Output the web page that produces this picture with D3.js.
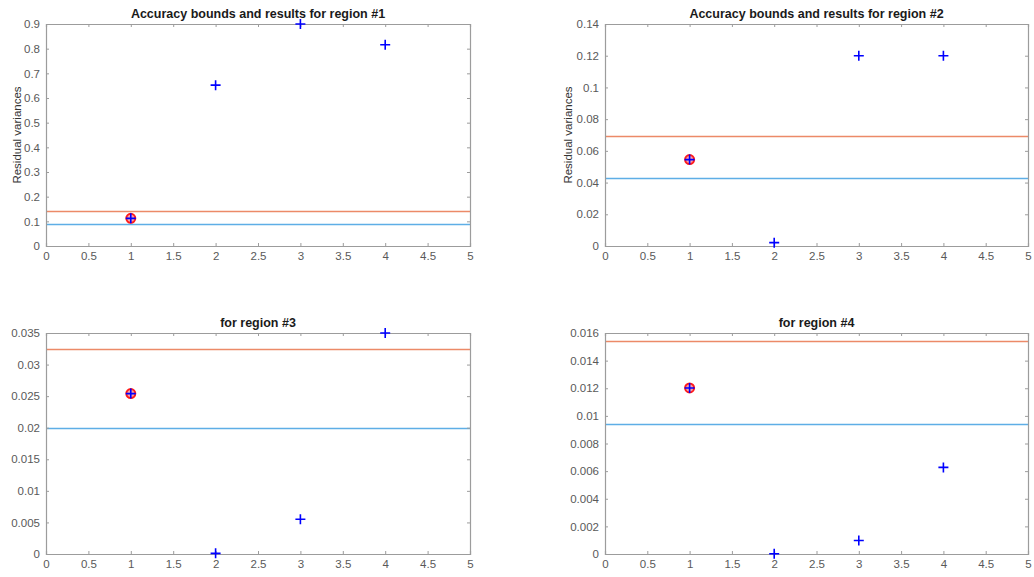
<!DOCTYPE html>
<html>
<head>
<meta charset="utf-8">
<script src="https://cdn.jsdelivr.net/npm/d3@7"></script>
<style>
  html, body { margin: 0; padding: 0; background: #fff; }
  svg { display: block; font-family: "Liberation Sans", Arial, sans-serif; }
</style>
</head>
<body>
<svg id="chart" width="1034" height="577"></svg>
<script>
// ---- data ----
const regionTitles = [
  "Accuracy bounds and results for region #1",
  "Accuracy bounds and results for region #2",
  "for region #3",
  "for region #4"
];
const xValues = [1, 2, 3, 4];
const region1Values = [0.112, 0.652, 0.900, 0.816];
const region2Values = [0.0545, 0.0021, 0.1200, 0.1200];
const region3Values = [0.0254, 0.0001, 0.0055, 0.0350];
const region4Values = [0.01202, 0.00002, 0.00098, 0.00627];
const upperBounds = [0.143, 0.0696, 0.0325, 0.0154];
const lowerBounds = [0.089, 0.0427, 0.0199, 0.0094];
const xTicks = [0, 0.5, 1, 1.5, 2, 2.5, 3, 3.5, 4, 4.5, 5];
const yTicks1 = [0, 0.1, 0.2, 0.3, 0.4, 0.5, 0.6, 0.7, 0.8, 0.9];
const yTicks2 = [0, 0.02, 0.04, 0.06, 0.08, 0.1, 0.12, 0.14];
const yTicks3 = [0, 0.005, 0.01, 0.015, 0.02, 0.025, 0.03, 0.035];
const yTicks4 = [0, 0.002, 0.004, 0.006, 0.008, 0.01, 0.012, 0.014, 0.016];
const highlightedX = 1;
const yLabelText = "Residual variances";

const regionValues = [region1Values, region2Values, region3Values, region4Values];
const regionYTicks = [yTicks1, yTicks2, yTicks3, yTicks4];

// ---- layout ----
const panels = [
  { left: 46, right: 470, top: 24, bottom: 246, ylabelOffset: 25 },
  { left: 605, right: 1028, top: 24, bottom: 246, ylabelOffset: 33 },
  { left: 46, right: 470, top: 333, bottom: 554, ylabelOffset: null },
  { left: 605, right: 1028, top: 333, bottom: 554, ylabelOffset: null }
];

const axisColor = "#9c9c9c";
const textColor = "#595959";
const upperColor = "#ec8a68";
const lowerColor = "#5eaee6";
const markerColor = "#0000ff";
const circleColor = "#ff1a1a";

const svg = d3.select("#chart");
const fmt = v => String(+v.toFixed(6));

panels.forEach((p, i) => {
  const yt = regionYTicks[i];
  const x = d3.scaleLinear().domain([0, 5]).range([p.left, p.right]);
  const y = d3.scaleLinear().domain([0, yt[yt.length - 1]]).range([p.bottom, p.top]);
  const g = svg.append("g");

  // bounds
  [[upperBounds[i], upperColor], [lowerBounds[i], lowerColor]].forEach(([v, c]) => {
    g.append("line")
      .attr("x1", x(0)).attr("x2", x(5))
      .attr("y1", Math.round(y(v)) + 0.5).attr("y2", Math.round(y(v)) + 0.5)
      .attr("stroke", c).attr("stroke-width", 1.3);
  });

  // axes: bottom, left, top, right (ticks inward)
  const tickLen = 3;
  const bottomAxis = d3.axisBottom(x).tickValues(xTicks).tickSize(-tickLen).tickPadding(6).tickFormat(fmt);
  const topAxis = d3.axisTop(x).tickValues(xTicks).tickSize(-tickLen).tickFormat("");
  const leftAxis = d3.axisLeft(y).tickValues(yt).tickSize(-tickLen).tickPadding(6).tickFormat(fmt);
  const rightAxis = d3.axisRight(y).tickValues(yt).tickSize(-tickLen).tickFormat("");

  const styleAxis = sel => {
    sel.select(".domain").attr("stroke", axisColor).attr("stroke-width", 1.2);
    sel.selectAll(".tick line").attr("stroke", axisColor);
    sel.selectAll(".tick text").attr("fill", textColor).style("font-size", "11.5px")
      .style("font-family", '"Liberation Sans", Arial, sans-serif');
  };

  g.append("g").attr("transform", `translate(0,${p.bottom})`).call(bottomAxis).call(styleAxis);
  g.append("g").attr("transform", `translate(0,${p.top})`).call(topAxis).call(styleAxis);
  g.append("g").attr("transform", `translate(${p.left},0)`).call(leftAxis).call(styleAxis);
  g.append("g").attr("transform", `translate(${p.right},0)`).call(rightAxis).call(styleAxis);

  // points
  const pts = xValues.map((xv, k) => ({ x: xv, y: regionValues[i][k] }));
  g.selectAll("circle.hl").data(pts.filter(d => d.x === highlightedX)).enter()
    .append("circle")
    .attr("cx", d => x(d.x)).attr("cy", d => y(d.y)).attr("r", 4.5)
    .attr("fill", "#f4a0a8").attr("stroke", circleColor).attr("stroke-width", 2);

  const h = 5;
  g.selectAll("path.plus").data(pts).enter()
    .append("path")
    .attr("d", d => {
      const cx = x(d.x), cy = y(d.y);
      return `M${cx - h},${cy}H${cx + h}M${cx},${cy - h}V${cy + h}`;
    })
    .attr("stroke", markerColor).attr("stroke-width", 1.6).attr("fill", "none");

  // title
  g.append("text")
    .attr("x", (p.left + p.right) / 2).attr("y", p.top - 6)
    .attr("text-anchor", "middle")
    .style("font-size", "12.5px").style("font-weight", "bold")
    .attr("fill", "#1a1a1a")
    .text(regionTitles[i]);

  if (p.ylabelOffset !== null) {
    g.append("text")
      .attr("transform", `translate(${p.left - p.ylabelOffset},${(p.top + p.bottom) / 2}) rotate(-90)`)
      .attr("text-anchor", "middle")
      .style("font-size", "11.5px")
      .attr("fill", "#333")
      .text(yLabelText);
  }
});
</script>
</body>
</html>
